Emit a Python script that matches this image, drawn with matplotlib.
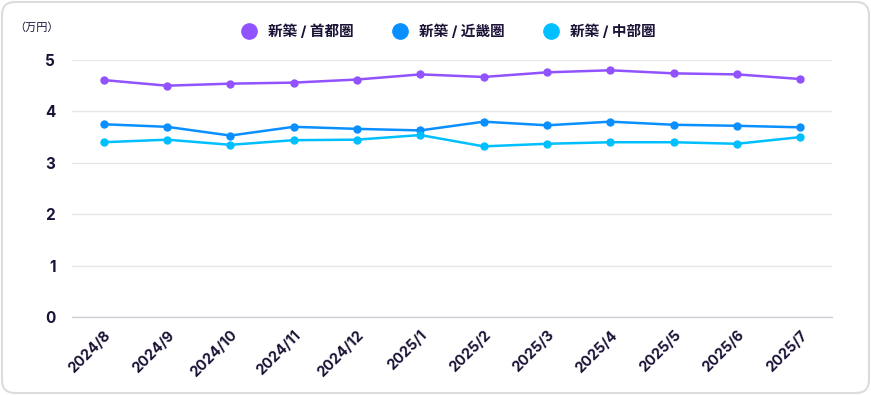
import matplotlib
matplotlib.use("Agg")
import matplotlib.pyplot as plt
from matplotlib.patches import FancyBboxPatch
from matplotlib.lines import Line2D

plt.rcParams['font.family'] = ['Inter', 'Noto Sans CJK JP', 'DejaVu Sans']

months = ["2024/8", "2024/9", "2024/10", "2024/11", "2024/12", "2025/1",
          "2025/2", "2025/3", "2025/4", "2025/5", "2025/6", "2025/7"]
shutoken = [4.61, 4.50, 4.54, 4.56, 4.62, 4.72, 4.67, 4.76, 4.80, 4.74, 4.72, 4.63]
kinki = [3.75, 3.70, 3.53, 3.70, 3.66, 3.63, 3.80, 3.73, 3.80, 3.74, 3.72, 3.69]
chubu = [3.40, 3.45, 3.35, 3.44, 3.45, 3.54, 3.32, 3.37, 3.40, 3.40, 3.37, 3.50]
series_names = ["新築 / 首都圏", "新築 / 近畿圏", "新築 / 中部圏"]
colors = ["#9152FF", "#0A8FFF", "#00BFFF"]
yticks = [0, 1, 2, 3, 4, 5]

text_color = "#1B1236"

fig = plt.figure(figsize=(8.71, 3.95), dpi=100)
W, H = 871, 395
border = FancyBboxPatch((2 / W, 2 / H), 1 - 4 / W, 1 - 4 / H,
                        boxstyle="round,pad=0,rounding_size=0.015",
                        transform=fig.transFigure, facecolor="white",
                        edgecolor="#DCDCDC", linewidth=1.5, mutation_aspect=W / H,
                        zorder=-10)
fig.patches.append(border)

ax = fig.add_axes([72 / W, (H - 317) / H, (832 - 72) / W, (317 - 60) / H])
ax.set_facecolor("none")
x = list(range(len(months)))
for vals, c in zip([shutoken, kinki, chubu], colors):
    ax.plot(x, vals, color=c, lw=1.8, marker="o", ms=5, zorder=3, clip_on=False)

ax.set_xlim(-0.5, len(months) - 0.5)
ax.set_ylim(0, 5)
ax.set_yticks(yticks)
ax.set_yticklabels([str(t) for t in yticks], fontsize=11, fontweight="bold", color=text_color)
ax.set_xticks(x)
ax.set_xticklabels(months, rotation=45, ha="right", rotation_mode="anchor",
                   fontsize=10.5, fontweight="bold", color=text_color)
ax.tick_params(axis="both", length=0)
ax.tick_params(axis="y", pad=12)
ax.tick_params(axis="x", pad=8)
ax.grid(axis="y", color="#E6E6E6", lw=1)
ax.set_axisbelow(True)
for s in ["top", "right", "left"]:
    ax.spines[s].set_visible(False)
ax.spines["bottom"].set_color("#D0D0D8")
ax.spines["bottom"].set_linewidth(1)

fig.text(14 / W, 1 - 28 / H, "（万円）", fontsize=8, color=text_color, va="center", ha="left")

handles = [Line2D([], [], color=c, marker="o", ls="none", ms=11) for c in colors]
leg = fig.legend(handles, series_names, loc="center", bbox_to_anchor=(445 / W, 1 - 32 / H),
                 ncol=3, frameon=False, handletextpad=0.3, columnspacing=2.2,
                 prop={"size": 10.5, "weight": "bold"})
for t in leg.get_texts():
    t.set_color(text_color)

fig.savefig("out.png", dpi=100)
